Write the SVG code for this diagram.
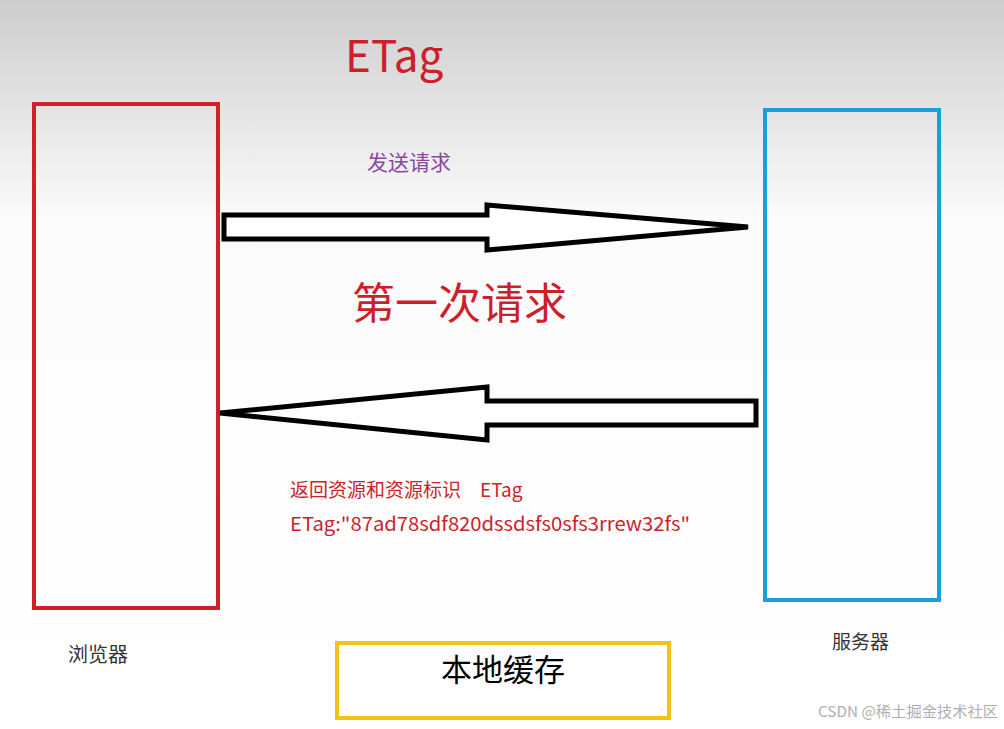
<svg xmlns="http://www.w3.org/2000/svg" width="1004" height="729" viewBox="0 0 1004 729">
<defs>
<linearGradient id="bg" x1="0" y1="0" x2="0" y2="1">
<stop offset="0" stop-color="#cdcdcd"/>
<stop offset="0.3" stop-color="#fbfbfb"/>
<stop offset="1" stop-color="#ffffff"/>
</linearGradient>
<style>
.cjk{font-family:"Microsoft YaHei","Noto Sans CJK SC","Noto Sans",sans-serif;}
.red{fill:#cc1f2b;}
.arrow{fill:#ffffff;stroke:#000000;stroke-width:5;stroke-linejoin:miter;}
</style>
</defs>
<rect x="0" y="0" width="1004" height="729" fill="url(#bg)"/>
<text class="cjk red" x="345" y="72" font-size="44">ETag</text>
<g id="browser">
<rect x="34" y="104" width="184" height="504" fill="none" stroke="#d0202a" stroke-width="4"/>
<text class="cjk" x="68" y="662" font-size="20" fill="#333333">浏览器</text>
</g>
<g id="server">
<rect x="765" y="110" width="174" height="490" fill="none" stroke="#1a9fd8" stroke-width="4"/>
<text class="cjk" x="832" y="649" font-size="19" fill="#333333">服务器</text>
</g>
<g id="cache">
<rect x="337" y="643" width="332" height="75" fill="none" stroke="#f2c21a" stroke-width="4"/>
<text class="cjk" x="441" y="681" font-size="31" fill="#000000">本地缓存</text>
</g>
<g id="connectors">
<polygon class="arrow" points="224,215 487,215 487,205 748,227 487,250 487,239 224,239"/>
<polygon class="arrow" points="756,401 487,401 487,387 220,413 487,440 487,425 756,425"/>
</g>
<text class="cjk" x="367" y="170" font-size="21" fill="#8a4aa0">发送请求</text>
<text class="cjk red" x="352" y="319" font-size="43">第一次请求</text>
<text class="cjk red" x="290" y="497" font-size="19">返回资源和资源标识　ETag</text>
<text class="cjk red" x="290" y="531" font-size="19" textLength="400" lengthAdjust="spacingAndGlyphs">ETag:"87ad78sdf820dssdsfs0sfs3rrew32fs"</text>
<text class="cjk" x="818" y="717" font-size="15" fill="#b0b0b0" textLength="180" lengthAdjust="spacingAndGlyphs">CSDN @稀土掘金技术社区</text>
</svg>
